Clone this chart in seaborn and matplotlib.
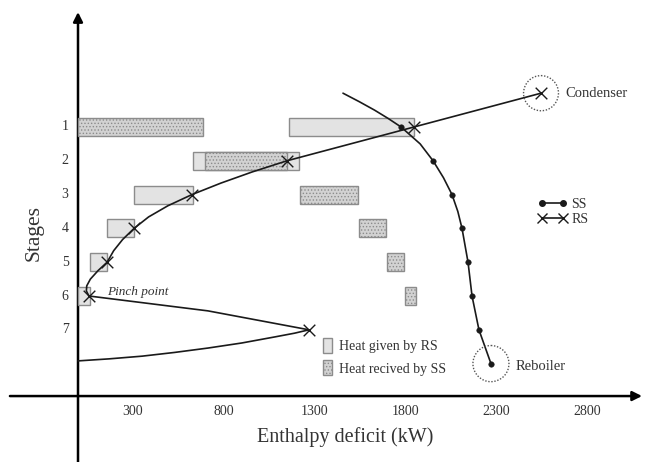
import numpy as np
import pandas as pd
import matplotlib.pyplot as plt
import seaborn as sns
from matplotlib.patches import Ellipse, Patch
from matplotlib.lines import Line2D

# Styling
sns.set_style('white')
plt.rcParams['font.family'] = ['Liberation Serif', 'DejaVu Serif']
plt.rcParams['hatch.linewidth'] = 0.6

# --- Data ---
stages = [1, 2, 3, 4, 5, 6, 7]
enthalpy_ticks = [300, 800, 1300, 1800, 2300, 2800]

# Heat given by RS (light boxes)
rs_bar_stage = [1, 2, 3, 4, 5, 6]
rs_bar_left = [1160, 632, 308, 160, 66, 0]
rs_bar_right = [1846, 1214, 632, 308, 160, 66]

# Heat received by SS (dotted boxes)
ss_bar_stage = [1, 2, 3, 4, 5, 6]
ss_bar_left = [0, 698, 1220, 1544, 1698, 1797]
ss_bar_right = [687, 1148, 1538, 1692, 1791, 1857]

# RS profile: stage points (markers) and traced curve
rs_stage = [0, 1, 2, 3, 4, 5, 6, 7]
rs_enthalpy = [2544, 1846, 1148, 626, 308, 160, 60, 1269]
rs_path_stage = [0, 1, 2, 2.33, 2.66, 3, 3.33, 3.66, 4, 4.33, 4.66, 5, 5.25, 5.5, 5.7,
                 5.85, 6, 6.44, 7, 7.1, 7.21, 7.39, 7.54, 7.67, 7.78, 7.86, 7.92]
rs_path_enthalpy = [2544, 1846, 1148, 957, 785, 626, 494, 388, 308, 245, 196, 160, 110, 68, 48,
                    46, 60, 714, 1269, 1190, 1082, 900, 714, 530, 352, 170, 0]

# SS profile
ss_stage = [1, 2, 3, 4, 5, 6, 7, 8]
ss_enthalpy = [1775, 1951, 2055, 2110, 2143, 2165, 2203, 2269]
ss_path_stage = [0, 0.25, 0.5, 0.75, 1, 1.5, 2, 2.5, 3, 3.5, 4, 5, 6, 7, 8]
ss_path_enthalpy = [1456, 1545, 1629, 1705, 1775, 1880, 1951, 2008, 2055, 2087, 2110, 2143,
                    2165, 2203, 2269]

condenser = (2544, 0)
reboiler = (2269, 8)

rs_bars = pd.DataFrame({'stage': rs_bar_stage, 'left': rs_bar_left, 'right': rs_bar_right})
ss_bars = pd.DataFrame({'stage': ss_bar_stage, 'left': ss_bar_left, 'right': ss_bar_right})
rs_path = pd.DataFrame({'stage': rs_path_stage, 'enthalpy': rs_path_enthalpy})
ss_path = pd.DataFrame({'stage': ss_path_stage, 'enthalpy': ss_path_enthalpy})
rs_pts = pd.DataFrame({'stage': rs_stage, 'enthalpy': rs_enthalpy})
ss_pts = pd.DataFrame({'stage': ss_stage, 'enthalpy': ss_enthalpy})

fig = plt.figure(figsize=(6.45, 4.62), dpi=100)
ax = fig.add_axes([0, 0, 1, 1])

line_col = '#1a1a1a'
text_col = '#333333'
rs_fill = '#e3e3e3'
ss_fill = '#d2d2d2'
bar_edge = '#8c8c8c'
bar_h = 0.53

# Bars
ax.barh(rs_bars['stage'], rs_bars['right'] - rs_bars['left'], left=rs_bars['left'],
        height=bar_h, color=rs_fill, edgecolor=bar_edge, linewidth=1, zorder=2)
ax.barh(ss_bars['stage'], ss_bars['right'] - ss_bars['left'], left=ss_bars['left'],
        height=bar_h, color=ss_fill, edgecolor=bar_edge, linewidth=1, hatch='.....', zorder=3)

# Curves
sns.lineplot(data=rs_path, x='enthalpy', y='stage', sort=False, estimator=None,
             color=line_col, linewidth=1.2, ax=ax, zorder=4)
sns.lineplot(data=ss_path, x='enthalpy', y='stage', sort=False, estimator=None,
             color=line_col, linewidth=1.2, ax=ax, zorder=4)
sns.scatterplot(data=rs_pts, x='enthalpy', y='stage', marker='x', s=70,
                color=line_col, linewidth=1.0, ax=ax, zorder=5)
sns.scatterplot(data=ss_pts, x='enthalpy', y='stage', marker='o', s=16,
                color=line_col, edgecolor=line_col, ax=ax, zorder=5)

# Condenser / reboiler circles
for (cx, cy), w, h in [(condenser, 192, 1.04), (reboiler, 198, 1.07)]:
    ax.add_patch(Ellipse((cx, cy), w, h, fill=False, edgecolor='#555555',
                         linestyle=(0, (1, 1.2)), linewidth=1.0, zorder=6))
ax.text(condenser[0] + 132, condenser[1], 'Condenser', fontsize=10.5, color=text_col,
        ha='left', va='center')
ax.text(reboiler[0] + 138, reboiler[1] + 0.1, 'Reboiler', fontsize=10.5, color=text_col,
        ha='left', va='center')
ax.text(159, 5.88, 'Pinch point', fontsize=9.5, style='italic', color=text_col,
        ha='left', va='center')

# Axes drawn as arrows
arrow = dict(arrowstyle='-|>', color='black', lw=1.8, mutation_scale=14,
             shrinkA=0, shrinkB=0)
ax.annotate('', xy=(3099, 8.96), xytext=(-374, 8.96), arrowprops=arrow, zorder=1)
ax.annotate('', xy=(0, -2.4), xytext=(0, 10.95), arrowprops=arrow, zorder=1)

for s in stages:
    ax.text(-71, s, str(s), fontsize=10, color=text_col, ha='center', va='center')
for t in enthalpy_ticks:
    ax.text(t, 9.43, str(t), fontsize=10, color=text_col, ha='center', va='center')

ax.text(1467, 10.17, 'Enthalpy deficit (kW)', fontsize=14.5, color=text_col,
        ha='center', va='center')
ax.text(-242, 4.14, 'Stages', fontsize=15.5, color=text_col, rotation=90,
        ha='center', va='center')

# Legends
line_handles = [
    Line2D([], [], color=line_col, lw=1.2, marker='o', markersize=4),
    Line2D([], [], color=line_col, lw=1.2, marker='x', markersize=7, markeredgewidth=1.0),
]
leg1 = ax.legend(line_handles, ['SS', 'RS'], loc='upper left', bbox_to_anchor=(0.834, 0.572),
                 frameon=False, fontsize=10, numpoints=2, handlelength=2.1,
                 handletextpad=0.3, labelspacing=0.15, borderpad=0, borderaxespad=0,
                 labelcolor=text_col)
ax.add_artist(leg1)

bar_handles = [
    Patch(facecolor=rs_fill, edgecolor=bar_edge, linewidth=1),
    Patch(facecolor=ss_fill, edgecolor=bar_edge, linewidth=1, hatch='.....'),
]
ax.legend(bar_handles, ['Heat given by RS', 'Heat recived by SS'], loc='upper left',
          bbox_to_anchor=(0.5, 0.268), frameon=False, fontsize=10, handlelength=0.7,
          handleheight=1.3, handletextpad=0.5, labelspacing=0.5, borderpad=0,
          borderaxespad=0, labelcolor=text_col)

ax.set_xlim(-428.6, 3115.4)
ax.set_ylim(10.911, -2.757)
ax.axis('off')

plt.savefig('out.png', dpi=100, facecolor='white')
plt.close()
